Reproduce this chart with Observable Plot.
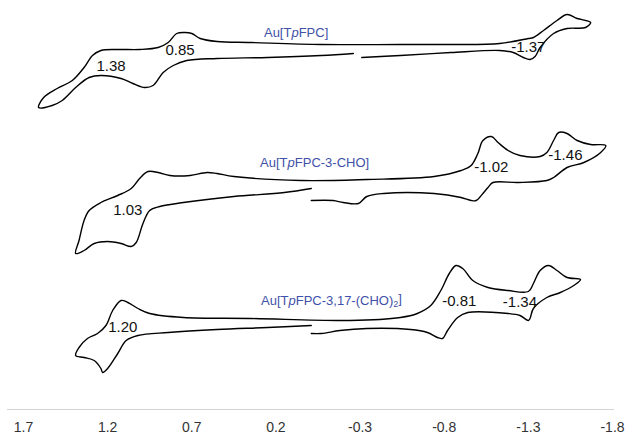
<!DOCTYPE html>
<html>
<head>
<meta charset="utf-8">
<script src="https://cdn.jsdelivr.net/npm/d3@7"></script>
<script src="https://cdn.jsdelivr.net/npm/@observablehq/plot@0.6"></script>
<style>
  html, body { margin: 0; padding: 0; background: #fff; }
  #chart { width: 627px; height: 434px; }
</style>
</head>
<body>
<div id="chart"></div>
<script>
// Compound names (one CV trace each)
const compounds = ["Au[TpFPC]", "Au[TpFPC-3-CHO]", "Au[TpFPC-3,17-(CHO)2]"];

// Trace 1: Au[TpFPC]  potential (V) and current (arbitrary units, traces offset)
const potential1 = [-0.31, -0.54, -0.84, -1.13, -1.21, -1.27, -1.31, -1.34, -1.37, -1.45, -1.53, -1.64, -1.67, -1.59, -1.53, -1.47, -1.39, -1.33, -1.30, -1.13, -0.84, -0.54, -0.07, 0.35, 0.55, 0.65, 0.70, 0.74, 0.79, 0.84, 0.90, 1.01, 1.14, 1.24, 1.29, 1.34, 1.41, 1.50, 1.58, 1.61, 1.53, 1.47, 1.39, 1.31, 1.24, 1.12, 1.05, 0.98, 0.93, 0.87, 0.81, 0.73, 0.55, 0.25, -0.07, -0.26];
const current1 = [352, 354, 357, 359, 357, 352, 350, 353, 362, 376, 381, 382, 387, 391, 395, 389, 379, 372, 371, 366, 365, 365, 365, 367, 368, 371, 376, 377, 376, 367, 362, 360, 360, 359, 354, 342, 329, 321, 312, 302, 304, 309, 322, 332, 334, 331, 326, 322, 324, 337, 344, 349, 351, 352, 354, 356];

// Trace 2: Au[TpFPC-3-CHO]
const potential2 = [-0.01, -0.14, -0.20, -0.29, -0.34, -0.44, -0.74, -0.90, -0.96, -0.99, -1.03, -1.06, -1.09, -1.24, -1.41, -1.45, -1.53, -1.63, -1.73, -1.76, -1.67, -1.59, -1.53, -1.48, -1.45, -1.41, -1.37, -1.25, -1.18, -1.12, -1.08, -1.03, -1.00, -0.96, -0.90, -0.74, -0.34, 0.05, 0.45, 0.55, 0.61, 0.71, 0.83, 0.90, 0.96, 1.01, 1.06, 1.14, 1.24, 1.31, 1.34, 1.37, 1.39, 1.34, 1.28, 1.20, 1.12, 1.06, 1.03, 0.99, 0.95, 0.89, 0.75, 0.45, 0.15, -0.01];
const current2 = [209, 209, 207, 206, 213, 216, 216, 212, 209, 209, 216, 222, 227, 227, 229, 232, 242, 247, 257, 264, 265, 269, 276, 277, 269, 257, 253, 254, 259, 267, 273, 269, 256, 244, 239, 233, 230, 229, 233, 236, 237, 234, 234, 237, 238, 231, 221, 214, 207, 199, 189, 169, 156, 159, 166, 168, 166, 163, 167, 186, 199, 203, 207, 213, 217, 221];

// Trace 3: Au[TpFPC-3,17-(CHO)2]
const potential3 = [-0.01, -0.07, -0.18, -0.34, -0.60, -0.70, -0.76, -0.79, -0.82, -0.88, -0.94, -1.18, -1.25, -1.30, -1.31, -1.33, -1.41, -1.49, -1.57, -1.61, -1.53, -1.47, -1.42, -1.37, -1.33, -1.30, -1.18, -1.06, -0.97, -0.91, -0.87, -0.83, -0.78, -0.72, -0.64, -0.54, -0.24, 0.35, 0.75, 0.95, 1.02, 1.08, 1.12, 1.17, 1.21, 1.26, 1.32, 1.37, 1.39, 1.34, 1.28, 1.24, 1.23, 1.20, 1.14, 1.09, 1.02, 0.84, 0.55, 0.25, -0.01];
const current3 = [76, 76, 79, 81, 80, 77, 72, 71, 79, 92, 97, 96, 94, 89, 91, 101, 112, 117, 124, 130, 132, 139, 144, 139, 126, 118, 119, 122, 129, 141, 144, 136, 119, 104, 96, 92, 89, 91, 92, 96, 101, 107, 109, 99, 84, 76, 71, 62, 54, 52, 49, 41, 37, 41, 56, 69, 74, 77, 80, 82, 84];

// Name label anchors (potential, current)
const namePotential = [0.08, -0.03, -0.13];
const nameCurrent = [377, 247, 109];

// Half-wave potential annotations
const peakLabels = ["1.38", "0.85", "-1.37", "1.03", "-1.02", "-1.46", "1.20", "-0.81", "-1.34"];
const peakPotential = [1.18, 0.77, -1.30, 1.08, -1.08, -1.52, 1.11, -0.89, -1.25];
const peakCurrent = [343, 359, 362, 199, 242, 254, 82, 108, 107];

// X axis ticks
const xTicks = [1.7, 1.2, 0.7, 0.2, -0.3, -0.8, -1.3, -1.8];

// Build tables
const traces = [
  [potential1, current1],
  [potential2, current2],
  [potential3, current3]
].flatMap(([p, c], k) => p.map((v, i) => ({compound: compounds[k], potential: v, current: c[i]})));
const names = compounds.map((n, i) => ({name: n, potential: namePotential[i], current: nameCurrent[i]}));
const peaks = peakLabels.map((t, i) => ({label: t, potential: peakPotential[i], current: peakCurrent[i]}));

const svg = Plot.plot({
  width: 627,
  height: 434,
  marginTop: 0,
  marginBottom: 25,
  marginLeft: 23,
  marginRight: 15,
  style: {fontFamily: "'Liberation Sans', Arial, sans-serif", fontSize: "13px", background: "#fff", color: "#333"},
  x: {domain: [1.7, -1.8], axis: null},
  y: {domain: [0, 409], axis: null},
  marks: [
    Plot.ruleY([0], {x1: 1.795, x2: -1.812, stroke: "#d4d4d4", strokeWidth: 1.2}),
    Plot.text(xTicks, {x: d => d, y: 0, dy: 18, text: d => d.toFixed(1), fontSize: 14, fill: "#333"}),
    Plot.line(traces, {x: "potential", y: "current", z: "compound", stroke: "#000", strokeWidth: 1.4, curve: "catmull-rom"}),
    Plot.text(names, {x: "potential", y: "current", text: "name", fill: "#3f51a8", fontSize: 13}),
    Plot.text(peaks, {x: "potential", y: "current", text: "label", fill: "#111", fontSize: 15})
  ]
});

// Rich formatting for compound names: italic "p", subscript "2"
d3.select(svg).selectAll("text").each(function() {
  const name = this.textContent;
  if (!compounds.includes(name)) return;
  const sel = d3.select(this);
  sel.text(null);
  const i = name.indexOf("Tp") + 1;
  sel.append("tspan").text(name.slice(0, i));
  sel.append("tspan").attr("font-style", "italic").text("p");
  const rest = name.slice(i + 1);
  const m = rest.match(/^(.*\))(\d)(\])$/);
  if (m) {
    sel.append("tspan").text(m[1]);
    sel.append("tspan").attr("dy", "0.3em").attr("font-size", 9).text(m[2]);
    sel.append("tspan").attr("dy", "-0.3em").text(m[3]);
  } else {
    sel.append("tspan").text(rest);
  }
});

document.getElementById("chart").appendChild(svg);
</script>
</body>
</html>
